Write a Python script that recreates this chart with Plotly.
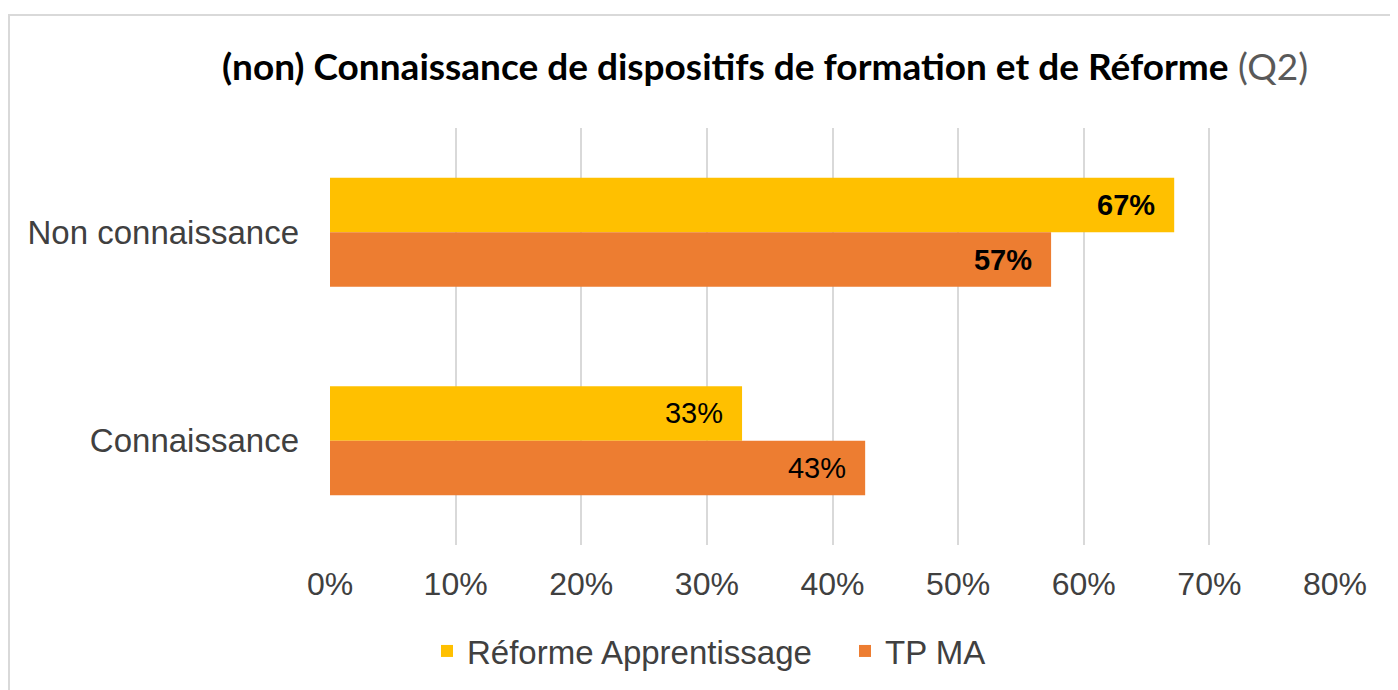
import plotly.graph_objects as go

categories = ["Non connaissance", "Connaissance"]
series_names = ["Réforme Apprentissage", "TP MA"]
reforme_values = [0.672, 0.328]
tpma_values = [0.574, 0.426]
bold_labels = [True, False]
x_tick_values = [0, 0.1, 0.2, 0.3, 0.4, 0.5, 0.6, 0.7, 0.8]
x_tick_labels = ["0%", "10%", "20%", "30%", "40%", "50%", "60%", "70%", "80%"]

colors = ["#FFC000", "#ED7D31"]

# page body has an 8px margin; figure coordinates are screen - 8
W, H = 1390, 682
PL, PT, PR, PB = 322, 120, 1327, 537  # plot area in figure px
PW, PH = PR - PL, PB - PT


def labels(values):
    out = []
    for v, b in zip(values, bold_labels):
        s = f"{round(v * 100):d}%"
        if b:
            s = f"<b>{s}</b>"
        out.append(s + "&nbsp;&nbsp;")
    return out


fig = go.Figure()
for name, vals, col in zip(series_names, [reforme_values, tpma_values], colors):
    fig.add_trace(go.Bar(
        name=name,
        y=categories,
        x=vals,
        orientation="h",
        marker=dict(color=col, line=dict(width=0)),
        text=labels(vals),
        texttemplate="%{text}",
        textposition="inside",
        insidetextanchor="end",
        textangle=0,
        textfont=dict(family="Liberation Sans, Arial, sans-serif", size=29, color="#000000"),
        cliponaxis=False,
    ))

fig.update_layout(
    width=W,
    height=H,
    barmode="group",
    bargap=0.477,
    bargroupgap=0,
    plot_bgcolor="white",
    paper_bgcolor="white",
    margin=dict(l=PL, r=W - PR, t=PT, b=H - PB),
    uniformtext=dict(mode=False),
    title=dict(
        text="<b>(non) Connaissance de dispositifs de formation et de Réforme</b> <span style='color:#595959'>(Q2)</span>",
        x=214 / W,
        xref="container",
        xanchor="left",
        y=1 - 59 / H,
        yref="container",
        yanchor="middle",
        font=dict(family="Lato, Carlito, sans-serif", size=37, color="#000000"),
    ),
    xaxis=dict(
        range=[0, 0.8],
        tickvals=x_tick_values,
        ticktext=x_tick_labels,
        showgrid=True,
        gridcolor="#D9D9D9",
        gridwidth=2,
        zeroline=False,
        showline=False,
        ticks="",
        ticklabelstandoff=17,
        tickfont=dict(family="Liberation Sans, Arial, sans-serif", size=32, color="#404040"),
        fixedrange=True,
    ),
    yaxis=dict(
        autorange="reversed",
        showgrid=False,
        zeroline=False,
        showline=False,
        ticks="",
        ticklabelstandoff=30,
        tickfont=dict(family="Liberation Sans, Arial, sans-serif", size=33, color="#404040"),
        fixedrange=True,
    ),
    legend=dict(
        orientation="h",
        x=(424 - 5) / W,
        xref="container",
        xanchor="left",
        y=1 - 643 / H,
        yref="container",
        yanchor="middle",
        entrywidth=373,
        entrywidthmode="pixels",
        font=dict(family="Liberation Sans, Arial, sans-serif", size=33, color="#404040"),
        itemclick=False,
        itemdoubleclick=False,
    ),
    shapes=[dict(
        type="rect",
        xref="paper",
        yref="paper",
        x0=(1 - PL) / PW,
        x1=(W + 20 - PL) / PW,
        y0=-(H + 20 - PB) / PH,
        y1=1 + (PT - 7) / PH,
        line=dict(color="#D9D9D9", width=2),
        fillcolor="rgba(0,0,0,0)",
        layer="below",
    )],
)

fig.write_html("out.html")
